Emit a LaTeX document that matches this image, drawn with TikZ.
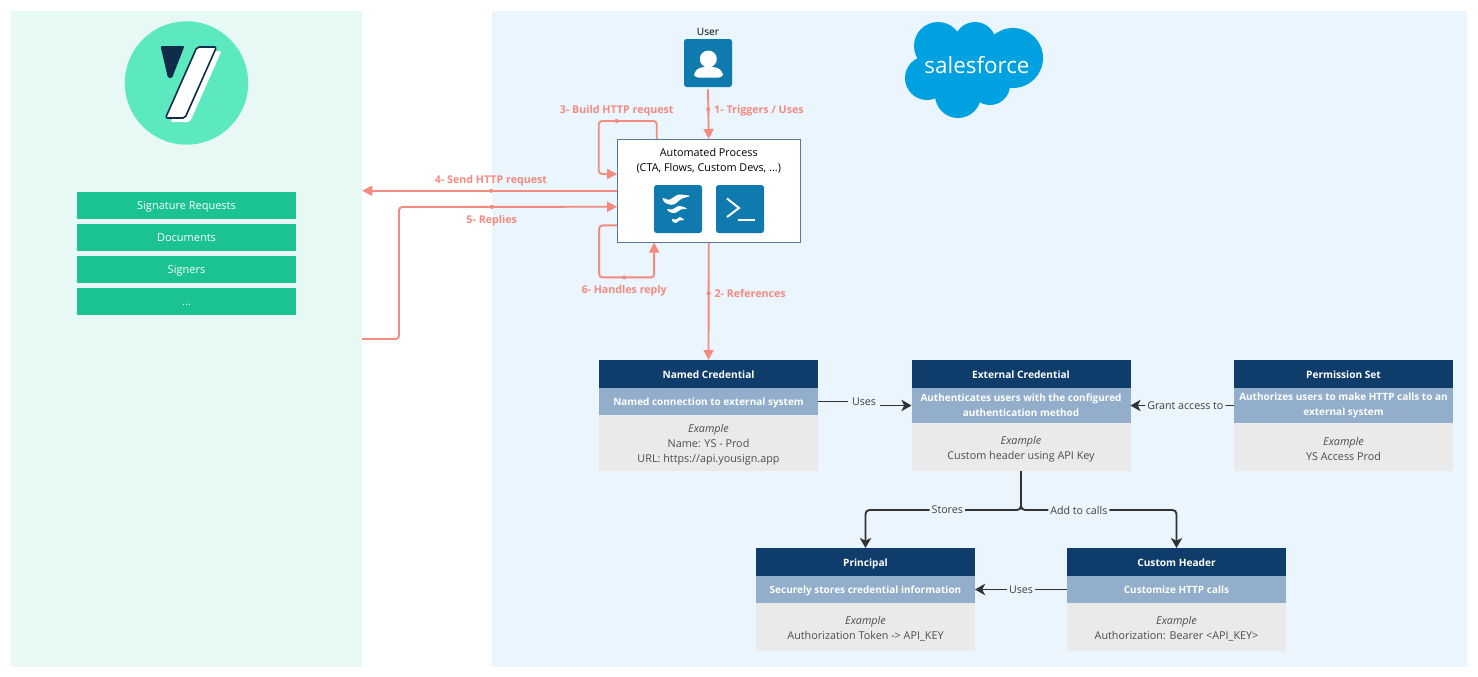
\documentclass[tikz,border=0pt]{standalone}
\usepackage{fontspec}
\setmainfont{Open Sans}
\usetikzlibrary{positioning, arrows.meta, shapes.geometric}
\definecolor{yspanelbg}{HTML}{E8F8F4}
\definecolor{sfpanelbg}{HTML}{EAF5FE}
\definecolor{ysgreen}{HTML}{1AC391}
\definecolor{ysmint}{HTML}{5CE9C0}
\definecolor{ysnavy}{HTML}{0F2D4A}
\definecolor{sfblue}{HTML}{00A1E0}
\definecolor{iconblue}{HTML}{0F7AAD}
\definecolor{flowred}{HTML}{F48B7F}
\definecolor{linkgrey}{HTML}{333333}
\definecolor{cardnavy}{HTML}{0F3D6B}
\definecolor{cardblue}{HTML}{92AECB}
\definecolor{cardgrey}{HTML}{EAEAEA}
\newcommand{\exhead}{\rule{0pt}{9pt}\textit{Example}}

\begin{document}
\begin{tikzpicture}[
                x=0.75pt, y=-0.75pt,
                panel/.style={rectangle, inner sep=0pt, minimum width=#1},
                listitem/.style={rectangle, fill=ysgreen, text=white, inner sep=0pt, outer sep=0pt, minimum width=164.25pt, minimum height=20.25pt, text height=6pt, text depth=0pt, font=\fontsize{8.25}{10}\selectfont},
                icon/.style={rectangle, rounded corners=2pt, fill=iconblue, inner sep=0pt, minimum size=36pt},
                process/.style={draw=cardnavy!70, fill=white, rectangle, inner sep=0pt, minimum width=137pt, minimum height=77.25pt},
                cardtitle/.style={rectangle, fill=cardnavy, text=white, inner sep=0pt, outer sep=0pt, minimum width=164.25pt, minimum height=21pt, text height=6pt, text depth=0pt, font=\fontsize{7.6}{10}\selectfont\bfseries},
                cardsub/.style={rectangle, fill=cardblue, text=white, inner sep=0pt, outer sep=0pt, minimum width=164.25pt, minimum height=#1, align=center, font=\fontsize{7.5}{11}\selectfont\bfseries},
                cardsingle/.style={text height=6pt, text depth=0pt},
                cardbody/.style={rectangle, fill=cardgrey, text=black!70, inner sep=0pt, outer sep=0pt, minimum width=164.25pt, minimum height=#1, align=center, font=\fontsize{8.1}{11.25}\selectfont},
                flow/.style={draw=flowred, line width=1.4pt, rounded corners=2.5pt},
                flowtip/.style={-{Triangle[length=7.5pt, width=7.5pt]}},
                flowdot/.style={circle, fill=flowred, inner sep=1.1pt},
                flowlabel/.style={text=flowred, inner sep=0pt, text height=6pt, text depth=0pt, font=\fontsize{8}{10}\selectfont\bfseries},
                link/.style={draw=linkgrey, line width=1.4pt, rounded corners=3pt},
                linktip/.style={-{Stealth[length=7.5pt, width=8.5pt, inset=2pt]}},
                linklabel/.style={fill=sfpanelbg, text=black!75, inner sep=1.5pt, font=\fontsize{8}{10}\selectfont}
            ]
            \useasboundingbox (0,0) rectangle (1478,676);

            % Panels
            \node[panel=263.25pt, fill=yspanelbg, minimum height=492pt] (yspanel) at (186.5,339) {};
            \node[panel=731.25pt, fill=sfpanelbg, minimum height=492pt] (sfpanel) at (979.5,339) {};

            % Yousign logo
            \node[circle, fill=ysmint, inner sep=0pt, minimum size=92.5pt] (yslogo) at (186.5,83) {};
            \fill[ysnavy, rounded corners=1pt] (160.5,46) -- (184.5,46) -- (172,78) -- (168,78) -- cycle;
            \fill[white, rounded corners=1.5pt] (202,51) -- (221.5,51) -- (190,122) -- (170.5,122) -- cycle;
            \draw[ysnavy, fill=white, line width=1.2pt, rounded corners=1.5pt] (197,47) -- (216.5,47) -- (185,118) -- (165.5,118) -- cycle;

            % Objects of the left panel
            \node[listitem] (signreq) at (186.5,205.5) {Signature Requests};
            \node[listitem, below=3.75pt of signreq] (documents) {Documents};
            \node[listitem, below=3.75pt of documents] (signers) {Signers};
            \node[listitem, below=3.75pt of signers] (others) {...};

            % Salesforce logo
            \fill[sfblue] (938,46) circle (24) (975,43) circle (21) (1013,58) circle (30)
                (927,78) circle (22) (958,95) circle (23) (990,85) circle (20) (965,68) circle (32);
            \node[text=white, inner sep=0pt, font=\fontsize{16.8}{18}\selectfont] (sflogo) at (977,65) {salesforce};

            % User and process
            \node[icon] (user) at (708,63) {};
            \node[inner sep=0pt, font=\fontsize{7.6}{10}\selectfont, above=2.5pt of user] (userlabel) {User};
            \fill[white] (708.3,59) circle (8.5);
            \fill[white, rounded corners=3pt] (694,77.5) -- (694,72) -- (700,67) -- (717,67) -- (723,72) -- (723,77.5) -- cycle;

            \node[process] (autoproc) at (708.75,190.75) {};
            \node[align=center, inner sep=0pt, font=\fontsize{8.1}{11.25}\selectfont] (autotext) at (708.75,161) {Automated Process\\(CTA, Flows, Custom Devs, ...)};
            \node[icon] (flowicon) at (678,209) {};
            \node[icon] (apexicon) at (740,209) {};
            \fill[white] plot[smooth cycle, tension=.5] coordinates {(662.7,198) (669.3,199.7) (678.3,194.7) (690,196) (681.7,198.7) (673.3,204.7) (665,202.7)};
            \fill[white] plot[smooth cycle, tension=.5] coordinates {(667,209) (672,209.5) (679,206) (687,208.5) (681,209.5) (675,213) (669.5,212)};
            \fill[white] plot[smooth cycle, tension=.5] coordinates {(672,219) (676,219.5) (680,217) (684,220) (679.5,220.5) (676,223) (673,222)};
            \draw[white, line width=1.5pt] (727,198.5) -- (739,208) -- (727,217);
            \draw[white, line width=1.5pt] (737.5,219.5) -- (754.5,219.5);

            % Cards
            \node[cardtitle] (named) at (708.5,374) {Named Credential};
            \node[cardsub=20.25pt, cardsingle, below=0pt of named] (namedsub) {Named connection to external system};
            \node[cardbody=42pt, below=0pt of namedsub] (namedbody) {\exhead\\Name: YS - Prod\\URL: https://api.yousign.app};

            \node[cardtitle] (external) at (1021,374) {External Credential};
            \node[cardsub=26.25pt, below=0pt of external] (externalsub) {Authenticates users with the configured\\authentication method};
            \node[cardbody=36pt, below=0pt of externalsub] (externalbody) {\exhead\\Custom header using API Key};

            \node[cardtitle] (permset) at (1343.5,374) {Permission Set};
            \node[cardsub=26.25pt, below=0pt of permset] (permsetsub) {Authorizes users to make HTTP calls to an\\external system};
            \node[cardbody=36pt, below=0pt of permsetsub] (permsetbody) {\exhead\\YS Access Prod};

            \node[cardtitle] (principal) at (865.5,562) {Principal};
            \node[cardsub=20.25pt, cardsingle, below=0pt of principal] (principalsub) {Securely stores credential information};
            \node[cardbody=36pt, below=0pt of principalsub] (principalbody) {\exhead\\Authorization Token -> API\_KEY};

            \node[cardtitle] (header) at (1176.5,562) {Custom Header};
            \node[cardsub=20.25pt, cardsingle, below=0pt of header] (headersub) {Customize HTTP calls};
            \node[cardbody=36pt, below=0pt of headersub] (headerbody) {\exhead\\Authorization: Bearer <API\_KEY>};

            % Numbered flow
            \draw[flow, flowtip] ([yshift=-1.5pt]user.south) -- (autoproc.north) node[flowdot, pos=.4] (triggerdot) {};
            \node[flowlabel, right=2pt of triggerdot] (triggerlabel) {1- Triggers / Uses};

            \draw[flow, flowtip] (autoproc.south) -- (named.north) node[flowdot, midway, yshift=6pt] (refdot) {};
            \node[flowlabel, right=2pt of refdot] (reflabel) {2- References};

            \draw[flow, flowtip] ([xshift=-39pt]autoproc.north) -- ++(0,-18) -- ++(-58,0) node[flowdot, pos=.69] (builddot) {} -- ++(0,53) -- ([yshift=12.5pt]autoproc.west);
            \node[flowlabel, above=3pt of builddot] (buildlabel) {3- Build HTTP request};

            \draw[flow, flowtip] (autoproc.west) -- (autoproc.west -| yspanel.east) node[flowdot, pos=.495] (senddot) {};
            \node[flowlabel, above=3pt of senddot] (sendlabel) {4- Send HTTP request};

            \coordinate (replyout) at (362,339);
            \draw[flow, flowtip] (replyout) -- ++(37,0) -- ++(0,-132) -- ([yshift=-12pt]autoproc.west) node[flowdot, pos=.425] (replydot) {};
            \node[flowlabel, below=3.75pt of replydot] (replylabel) {5- Replies};

            \draw[flow, flowtip] ([yshift=-26pt]autoproc.west) -- ++(-18,0) -- ++(0,52) -- ++(25,0) node[flowdot, pos=1] (handledot) {} -- ++(30,0) -- ([xshift=-41pt]autoproc.south);
            \node[flowlabel, below=3.75pt of handledot] (handlelabel) {6- Handles reply};

            % Links between cards
            \draw[link, linktip, rounded corners=0pt] (namedsub.east) -- ++(46,0) -- ++(0,4) node[linklabel, pos=0, inner xsep=3pt] (useslabel) {Uses} -- (externalsub.west);
            \draw[link, linktip] (permsetsub.west) -- (externalsub.east) node[linklabel, pos=.47] (grantlabel) {Grant access to};
            \draw[link, linktip] (externalbody.south) -- ++(0,39) -| (principal.north) node[linklabel, pos=.237] (storeslabel) {Stores};
            \draw[link, linktip] (externalbody.south) -- ++(0,39) -| (header.north) node[linklabel, pos=.186] (addlabel) {Add to calls};
            \draw[link, linktip] (headersub.west) -- (principalsub.east) node[linklabel, midway] (useslabelb) {Uses};
        \end{tikzpicture}
\end{document}
